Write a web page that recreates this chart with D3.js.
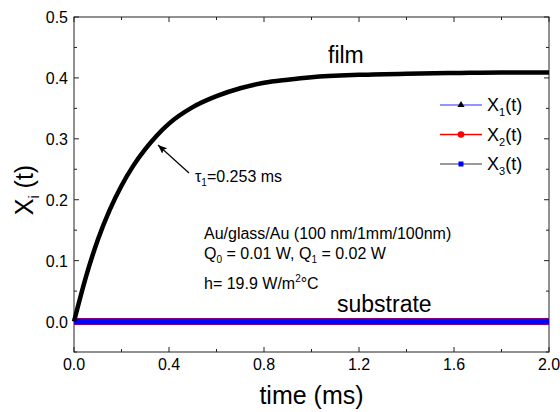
<!DOCTYPE html>
<html><head><meta charset="utf-8">
<script src="https://cdn.jsdelivr.net/npm/d3@7"></script>
<style>body{margin:0;background:#fff}text{font-family:"Liberation Sans",Arial,sans-serif;fill:#000}</style>
</head><body><svg id="c" width="560" height="412"></svg>
<script>
const timeMs = [0, 0.05, 0.1, 0.15, 0.2, 0.25, 0.3, 0.35, 0.4, 0.5, 0.6, 0.7, 0.8, 0.9, 1.0, 1.2, 1.4, 1.6, 1.8, 2.0];
const filmX1 = [0, 0.073, 0.134, 0.183, 0.223, 0.256, 0.283, 0.306, 0.325, 0.352, 0.370, 0.383, 0.392, 0.397, 0.401, 0.405, 0.407, 0.408, 0.409, 0.409];
const substrateX2 = [0, 0, 0, 0, 0, 0, 0, 0, 0, 0, 0, 0, 0, 0, 0, 0, 0, 0, 0, 0];
const substrateX3 = [0, 0, 0, 0, 0, 0, 0, 0, 0, 0, 0, 0, 0, 0, 0, 0, 0, 0, 0, 0];
const xTicks = [0, 0.4, 0.8, 1.2, 1.6, 2.0];
const yTicks = [0, 0.1, 0.2, 0.3, 0.4, 0.5];
const legendItems = [
  {label: "1", line: "#7070ff", marker: "triangle", mcol: "#000"},
  {label: "2", line: "#ff0000", marker: "circle", mcol: "#ff0000"},
  {label: "3", line: "#777777", marker: "square", mcol: "#0000ff"}
];

const svg = d3.select("#c");
const L = 74, R = 549, T = 17, B = 352;
const x = d3.scaleLinear().domain([0, 2]).range([L, R]);
const y = d3.scaleLinear().domain([-0.05, 0.5]).range([B, T]);

// frame
svg.append("rect").attr("x", L).attr("y", T).attr("width", R - L).attr("height", B - T)
  .attr("fill", "none").attr("stroke", "#222").attr("stroke-width", 1);

// ticks (inward)
const xMinor = d3.range(0.2, 2, 0.4);
const yMinor = d3.range(-0.05, 0.5, 0.1);
const g = svg.append("g").attr("stroke", "#222").attr("stroke-width", 1);
xTicks.forEach(v => {
  g.append("line").attr("x1", x(v)).attr("x2", x(v)).attr("y1", B).attr("y2", B - 5);
  g.append("line").attr("x1", x(v)).attr("x2", x(v)).attr("y1", T).attr("y2", T + 5);
});
xMinor.forEach(v => {
  g.append("line").attr("x1", x(v)).attr("x2", x(v)).attr("y1", B).attr("y2", B - 3);
  g.append("line").attr("x1", x(v)).attr("x2", x(v)).attr("y1", T).attr("y2", T + 3);
});
yTicks.forEach(v => {
  g.append("line").attr("y1", y(v)).attr("y2", y(v)).attr("x1", L).attr("x2", L + 5);
  g.append("line").attr("y1", y(v)).attr("y2", y(v)).attr("x1", R).attr("x2", R - 5);
});
yMinor.forEach(v => {
  g.append("line").attr("y1", y(v)).attr("y2", y(v)).attr("x1", L).attr("x2", L + 3);
  g.append("line").attr("y1", y(v)).attr("y2", y(v)).attr("x1", R).attr("x2", R - 3);
});

const fmt = d3.format(".1f");
svg.selectAll(".xl").data(xTicks).join("text").attr("x", d => x(d)).attr("y", 370)
  .attr("text-anchor", "middle").attr("font-size", 16).text(fmt);
svg.selectAll(".yl").data(yTicks).join("text").attr("x", 68).attr("y", d => y(d) + 6)
  .attr("text-anchor", "end").attr("font-size", 16).text(fmt);

// axis titles
svg.append("text").attr("x", (L + R) / 2).attr("y", 404).attr("text-anchor", "middle")
  .attr("font-size", 25).text("time (ms)");
const yt = svg.append("text").attr("transform", "translate(33,190) rotate(-90)")
  .attr("text-anchor", "middle").attr("font-size", 25);
yt.append("tspan").text("X");
yt.append("tspan").attr("font-size", 14).attr("dy", 6).text("i");
yt.append("tspan").attr("dy", -6).text(" (t)");

// data lines
const line = (ys) => d3.line().x((d, i) => x(timeMs[i])).y(d => y(d)).curve(d3.curveMonotoneX)(ys);
svg.append("path").attr("d", line(substrateX2)).attr("fill", "none").attr("stroke", "#ff0000").attr("stroke-width", 7);
svg.append("path").attr("d", line(substrateX3)).attr("fill", "none").attr("stroke", "#0000ff").attr("stroke-width", 6);
svg.append("path").attr("d", line(filmX1)).attr("fill", "none").attr("stroke", "#000").attr("stroke-width", 4.5);

// labels
svg.append("text").attr("x", 328).attr("y", 63).attr("font-size", 23).text("film");
svg.append("text").attr("x", 337).attr("y", 312).attr("font-size", 23).text("substrate");

// arrow
svg.append("defs").append("marker").attr("id", "ah").attr("viewBox", "0 0 10 10").attr("refX", 10).attr("refY", 5)
  .attr("markerWidth", 9).attr("markerHeight", 9).attr("markerUnits", "userSpaceOnUse").attr("orient", "auto")
  .append("path").attr("d", "M0,1 L10,5 L0,9 L2,5 Z").attr("fill", "#000");
svg.append("line").attr("x1", 189).attr("y1", 173).attr("x2", 158).attr("y2", 145)
  .attr("stroke", "#000").attr("stroke-width", 1.2).attr("marker-end", "url(#ah)");

const tau = svg.append("text").attr("x", 195).attr("y", 182).attr("font-size", 16);
tau.append("tspan").text("τ");
tau.append("tspan").attr("font-size", 10).attr("dy", 4).text("1");
tau.append("tspan").attr("dy", -4).text("=0.253 ms");

svg.append("text").attr("x", 204).attr("y", 239).attr("font-size", 16).text("Au/glass/Au (100 nm/1mm/100nm)");
const q = svg.append("text").attr("x", 204).attr("y", 259).attr("font-size", 16);
q.append("tspan").text("Q");
q.append("tspan").attr("font-size", 10).attr("dy", 4).text("0");
q.append("tspan").attr("dy", -4).text(" = 0.01 W, Q");
q.append("tspan").attr("font-size", 10).attr("dy", 4).text("1");
q.append("tspan").attr("dy", -4).text(" = 0.02 W");
const h = svg.append("text").attr("x", 204).attr("y", 289).attr("font-size", 16);
h.append("tspan").text("h= 19.9 W/m");
h.append("tspan").attr("font-size", 10).attr("dy", -7).text("2");
h.append("tspan").attr("dy", 7).text("°C");

// legend
legendItems.forEach((it, i) => {
  const ly = 105 + i * 29.5;
  svg.append("line").attr("x1", 440).attr("x2", 482).attr("y1", ly).attr("y2", ly)
    .attr("stroke", it.line).attr("stroke-width", 1.5);
  const mx = 461;
  if (it.marker === "triangle") {
    svg.append("path").attr("d", d3.symbol(d3.symbolTriangle, 22)()).attr("transform", `translate(${mx},${ly})`).attr("fill", it.mcol);
  } else if (it.marker === "circle") {
    svg.append("circle").attr("cx", mx).attr("cy", ly).attr("r", 3.3).attr("fill", it.mcol);
  } else {
    svg.append("rect").attr("x", mx - 2.5).attr("y", ly - 2.5).attr("width", 5).attr("height", 5).attr("fill", it.mcol);
  }
  const t = svg.append("text").attr("x", 487).attr("y", ly + 6).attr("font-size", 18);
  t.append("tspan").text("X");
  t.append("tspan").attr("font-size", 11).attr("dy", 5).text(it.label);
  t.append("tspan").attr("dy", -5).text("(t)");
});
</script></body></html>
